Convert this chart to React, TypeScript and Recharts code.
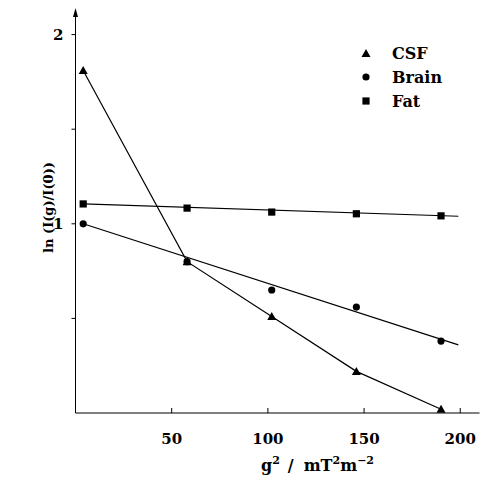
import React from "react";
import { ComposedChart, Line, Scatter, XAxis, YAxis, Legend, ReferenceDot } from "recharts";

// g^2 values (mT^2 m^-2) at which the signals were measured
const gSquared = [4, 58, 102, 146, 190];
// ln(I(g)/I(0)) for each tissue
const csfValues = [1.81, 0.8, 0.51, 0.22, 0.02];
const brainValues = [1.0, 0.8, 0.65, 0.56, 0.38];
const fatValues = [1.105, 1.083, 1.062, 1.053, 1.042];
// end points of the fitted straight lines
const fitX = [4, 199];
const brainFit = [1.0, 0.36];
const fatFit = [1.105, 1.04];

const xTicks = [50, 100, 150, 200];
const yTicks = [0.5, 1, 1.5, 2];
const yLabelled = [1, 2];

const toPoints = (xs: number[], ys: number[]) => xs.map((x, i) => ({ x, y: ys[i] }));

const csf = toPoints(gSquared, csfValues);
const brain = toPoints(gSquared, brainValues);
const fat = toPoints(gSquared, fatValues);
const brainLine = toPoints(fitX, brainFit);
const fatLine = toPoints(fitX, fatFit);

const FONT = "'DejaVu Serif', 'Liberation Serif', serif";

const Triangle = ({ cx, cy }: any) => (
  <path d={`M${cx},${cy - 4.5} L${cx + 4.5},${cy + 3.5} L${cx - 4.5},${cy + 3.5} Z`} fill="#000" />
);
const Dot = ({ cx, cy }: any) => <circle cx={cx} cy={cy} r={3.6} fill="#000" />;
const Square = ({ cx, cy }: any) => <rect x={cx - 3.6} y={cy - 3.6} width={7.2} height={7.2} fill="#000" />;
const Arrow = ({ cx, cy }: any) => (
  <path d={`M${cx},${cy - 2} L${cx + 2.5},${cy + 7} L${cx - 2.5},${cy + 7} Z`} fill="#000" />
);

const legendItems = [
  { name: "CSF", icon: "tri" },
  { name: "Brain", icon: "dot" },
  { name: "Fat", icon: "sq" },
];

function LegendBox() {
  return (
    <div style={{ fontFamily: FONT, fontWeight: "bold", fontSize: 16, color: "#000" }}>
      {legendItems.map((it) => (
        <div key={it.name} style={{ display: "flex", alignItems: "center", height: 24 }}>
          <svg width={12} height={12} style={{ marginRight: 20 }}>
            {it.icon === "tri" && <Triangle cx={6} cy={6.5} />}
            {it.icon === "dot" && <Dot cx={6} cy={6} />}
            {it.icon === "sq" && <Square cx={6} cy={6} />}
          </svg>
          <span>{it.name}</span>
        </div>
      ))}
    </div>
  );
}

const XTitle = ({ viewBox }: any) => {
  const x = viewBox.x + viewBox.width / 2 + 40;
  const y = viewBox.y + 58;
  return (
    <text x={x} y={y} textAnchor="middle" fontFamily={FONT} fontWeight="bold" fontSize={16} fill="#000">
      <tspan>g</tspan>
      <tspan dy={-7} fontSize={11}>2</tspan>
      <tspan dy={7} dx={8}>/</tspan>
      <tspan dx={10}>mT</tspan>
      <tspan dy={-7} fontSize={11}>2</tspan>
      <tspan dy={7}>m</tspan>
      <tspan dy={-7} fontSize={11}>−2</tspan>
    </text>
  );
};

const YTitle = ({ viewBox }: any) => {
  const x = viewBox.x + 13;
  const y = viewBox.y + viewBox.height / 2 - 4;
  return (
    <text
      x={x}
      y={y}
      transform={`rotate(-90, ${x}, ${y})`}
      textAnchor="middle"
      dominantBaseline="central"
      fontFamily={FONT}
      fontWeight="bold"
      fontSize={13}
      fill="#000"
    >
      ln (I(g)/I(0))
    </text>
  );
};

export default function App() {
  return (
    <ComposedChart width={486} height={475} margin={{ top: 2, right: 14.5, bottom: 40, left: 27.5 }}>
      <XAxis
        type="number"
        dataKey="x"
        domain={[0, 210]}
        ticks={xTicks}
        allowDataOverflow
        stroke="#000"
        tickSize={-5}
        tickMargin={25}
        height={30}
        tick={{ fill: "#000", fontFamily: FONT, fontWeight: "bold", fontSize: 15 }}
        label={<XTitle />}
      />
      <YAxis
        type="number"
        dataKey="y"
        domain={[0, 2.13]}
        ticks={yTicks}
        allowDataOverflow
        stroke="#000"
        width={40}
        tickSize={4}
        tickMargin={8}
        tickFormatter={(v: number) => (yLabelled.includes(v) ? String(v) : "")}
        tick={{ fill: "#000", fontFamily: FONT, fontWeight: "bold", fontSize: 15 }}
        label={<YTitle />}
      />
      <ReferenceDot x={0} y={2.13} ifOverflow="visible" shape={<Arrow />} />
      <Line data={csf} dataKey="y" stroke="#000" strokeWidth={1.2} dot={false} isAnimationActive={false} />
      <Line data={brainLine} dataKey="y" stroke="#000" strokeWidth={1.2} dot={false} isAnimationActive={false} />
      <Line data={fatLine} dataKey="y" stroke="#000" strokeWidth={1.2} dot={false} isAnimationActive={false} />
      <Scatter name="CSF" data={csf} dataKey="y" shape={<Triangle />} isAnimationActive={false} />
      <Scatter name="Brain" data={brain} dataKey="y" shape={<Dot />} isAnimationActive={false} />
      <Scatter name="Fat" data={fat} dataKey="y" shape={<Square />} isAnimationActive={false} />
      <Legend
        layout="vertical"
        align="center"
        verticalAlign="middle"
        content={<LegendBox />}
        wrapperStyle={{ top: 33, left: 352, width: "auto" }}
      />
    </ComposedChart>
  );
}
